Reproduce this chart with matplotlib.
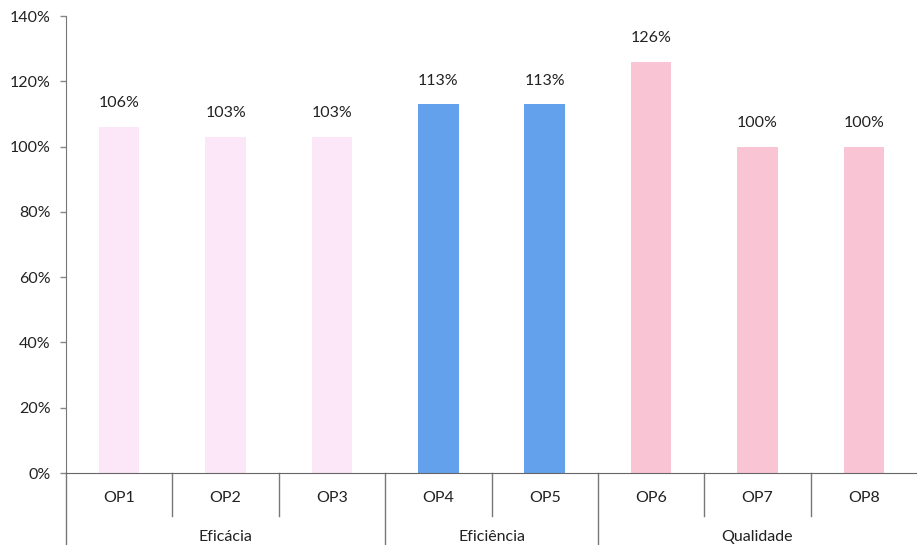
import matplotlib.pyplot as plt
from matplotlib.transforms import blended_transform_factory

categories = ["OP1", "OP2", "OP3", "OP4", "OP5", "OP6", "OP7", "OP8"]
values = [1.06, 1.03, 1.03, 1.13, 1.13, 1.26, 1.00, 1.00]
groups = ["Eficácia", "Eficiência", "Qualidade"]
group_sizes = [3, 2, 3]
group_colors = ["#FCE7F8", "#63A1EC", "#F9C4D4"]
yticks = [0, 0.2, 0.4, 0.6, 0.8, 1.0, 1.2, 1.4]

plt.rcParams['font.family'] = ['Lato', 'DejaVu Sans']
fs = 11.5

fig = plt.figure(figsize=(9.17, 5.45), dpi=100)
ax = fig.add_axes([0.072, 0.132, 0.928, 0.8386])

colors = []
for g, n in zip(group_colors, group_sizes):
  colors += [g] * n

x = list(range(len(categories)))
ax.bar(x, values, width=0.38, color=colors, zorder=2)

for xi, v in zip(x, values):
  ax.annotate(f"{round(v*100)}%", (xi, v), xytext=(0, 17), textcoords="offset points",
              ha="center", va="center", fontsize=fs, color="#222222")

ax.set_xlim(-0.5, len(categories) - 0.5)
ax.set_ylim(0, 1.4)
ax.set_yticks(yticks)
ax.set_yticklabels([f"{round(t*100)}%" for t in yticks], fontsize=fs, color="#222222")
ax.tick_params(axis="y", length=4, width=1, color="#888888", pad=7)
ax.set_xticks([])

for s in ["top", "right"]:
  ax.spines[s].set_visible(False)
ax.spines["left"].set_color("#777777")
ax.spines["bottom"].set_color("#666666")
ax.spines["left"].set_bounds(0, 1.4)

trans = blended_transform_factory(ax.transData, ax.transAxes)
# category labels and separators
for xi, c in zip(x, categories):
  ax.text(xi, -0.055, c, transform=trans, ha="center", va="center", fontsize=fs, color="#222222")

bounds = [-0.5]
for n in group_sizes:
  bounds.append(bounds[-1] + n)

for i in range(1, len(categories)):
  b = i - 0.5
  if b in bounds:
    ax.plot([b, b], [0, -0.17], transform=trans, color="#777777", lw=1, clip_on=False)
  else:
    ax.plot([b, b], [0, -0.095], transform=trans, color="#777777", lw=1, clip_on=False)

ax.plot([-0.5, -0.5], [0, -0.17], transform=trans, color="#777777", lw=1, clip_on=False)

for gi, g in enumerate(groups):
  mid = (bounds[gi] + bounds[gi + 1]) / 2
  ax.text(mid, -0.14, g, transform=trans, ha="center", va="center", fontsize=fs, color="#222222")

fig.savefig("out.png", dpi=100)
